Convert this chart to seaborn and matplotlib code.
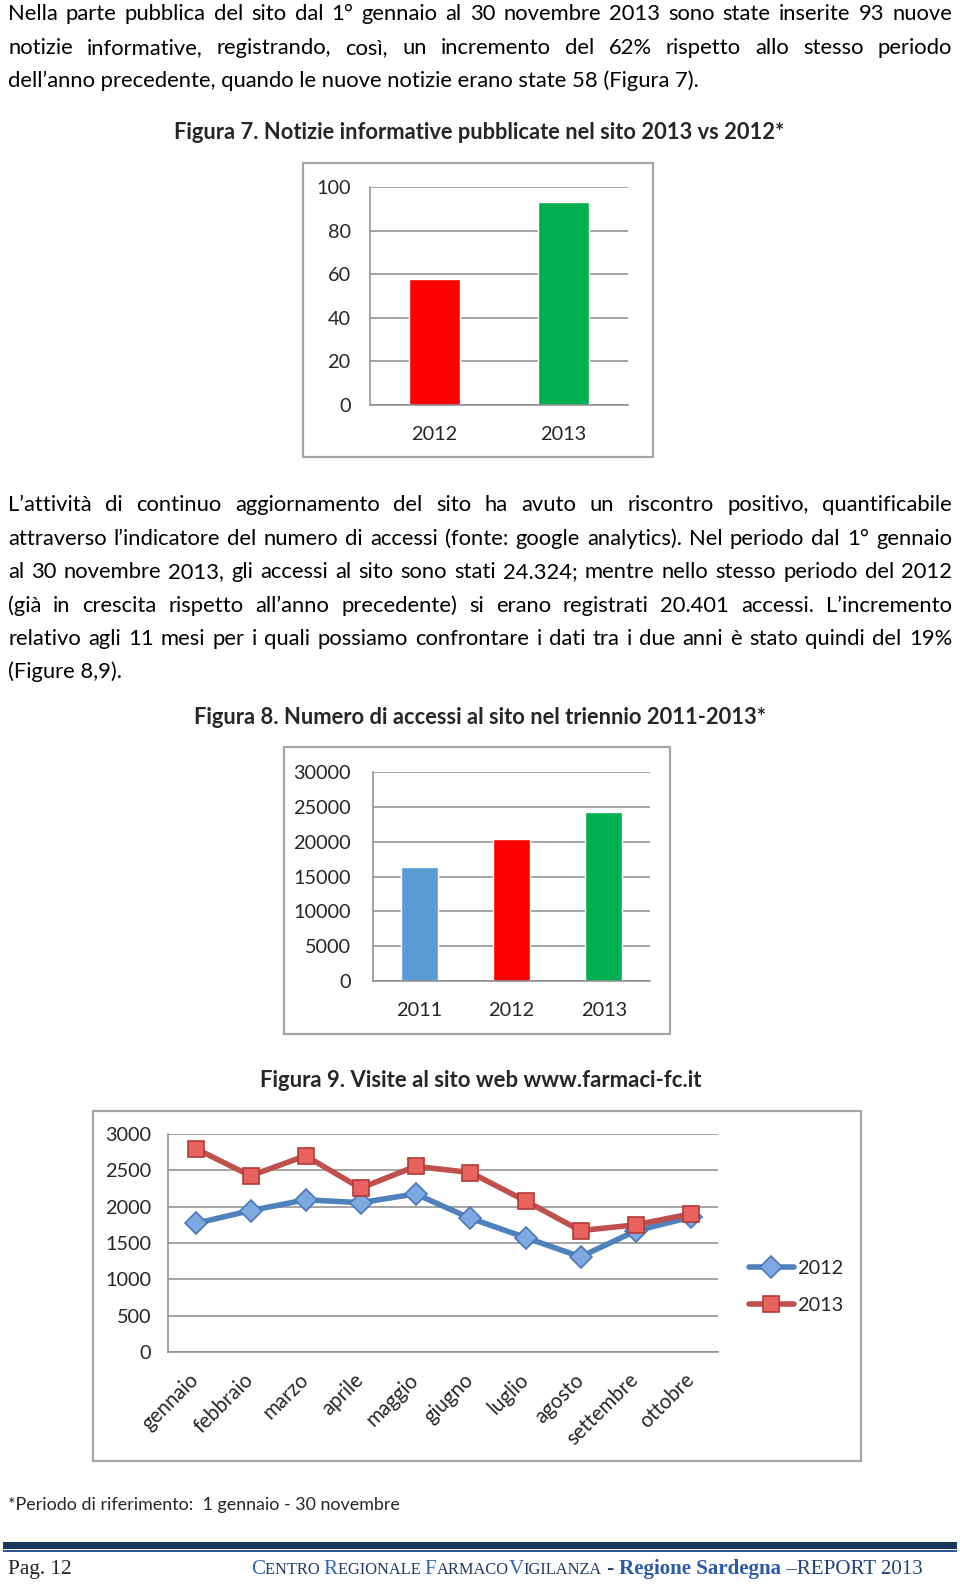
import numpy as np
import pandas as pd
import matplotlib
matplotlib.use("Agg")
import matplotlib.pyplot as plt
import seaborn as sns
from matplotlib.patches import Rectangle
from matplotlib.lines import Line2D

# ---------------- data ----------------
fig7_years = ["2012", "2013"]
fig7_values = [58, 93]
fig7_colors = ["#FF0000", "#00B050"]
fig7_yticks = [0, 20, 40, 60, 80, 100]

fig8_years = ["2011", "2012", "2013"]
fig8_values = [16300, 20401, 24324]
fig8_colors = ["#5B9BD5", "#FF0000", "#00B050"]
fig8_yticks = [0, 5000, 10000, 15000, 20000, 25000, 30000]

months = ["gennaio", "febbraio", "marzo", "aprile", "maggio", "giugno",
          "luglio", "agosto", "settembre", "ottobre"]
visits_2012 = [1770, 1945, 2095, 2055, 2175, 1840, 1575, 1310, 1665, 1855]
visits_2013 = [2800, 2425, 2700, 2255, 2555, 2470, 2080, 1670, 1750, 1900]
fig9_yticks = [0, 500, 1000, 1500, 2000, 2500, 3000]
series_names = ["2012", "2013"]

para1 = [
    "Nella parte pubblica del sito dal 1° gennaio al 30 novembre 2013 sono state inserite 93 nuove",
    "notizie informative, registrando, così, un incremento del 62% rispetto allo stesso periodo",
    "dell’anno precedente, quando le nuove notizie erano state 58 (Figura 7).",
]
para2 = [
    "L’attività di continuo aggiornamento del sito ha avuto un riscontro positivo, quantificabile",
    "attraverso l’indicatore del numero di accessi (fonte: google analytics). Nel periodo dal 1° gennaio",
    "al 30 novembre 2013, gli accessi al sito sono stati 24.324; mentre nello stesso periodo del 2012",
    "(già in crescita rispetto all’anno precedente) si erano registrati 20.401 accessi. L’incremento",
    "relativo agli 11 mesi per i quali possiamo confrontare i dati tra i due anni è stato quindi del 19%",
    "(Figure 8,9).",
]
title7 = "Figura 7. Notizie informative pubblicate nel sito 2013 vs 2012*"
title8 = "Figura 8. Numero di accessi al sito nel triennio 2011-2013*"
title9 = "Figura 9. Visite al sito web www.farmaci-fc.it"
footnote = "*Periodo di riferimento:  1 gennaio - 30 novembre"

# ---------------- setup ----------------
W, H, DPI = 960, 1588, 100
sns.set_style("white")
plt.rcParams["font.family"] = ["Lato", "DejaVu Sans"]
fig = plt.figure(figsize=(W / DPI, H / DPI), dpi=DPI)
fig.patch.set_facecolor("white")
R = fig.canvas.get_renderer()

GRID = "#8C8C8C"
TXT = "#000000"


def fy(y):
    return 1 - y / H


def rect(x0, y0, x1, y1):
    return [x0 / W, 1 - y1 / H, (x1 - x0) / W, (y1 - y0) / H]


def width_of(s, size, **kw):
    t = fig.text(0, 0, s, fontsize=size, **kw)
    w = t.get_window_extent(R).width
    t.remove()
    return w


def fit_size(s, target, **kw):
    return 20 * target / width_of(s, 20, **kw)


def line_text(s, y, size, x0=8, x1=952, justify=True, **kw):
    words = s.split(" ")
    if not justify or len(words) < 2:
        fig.text(x0 / W, fy(y), s, fontsize=size, va="baseline", ha="left", color=TXT, **kw)
        return
    widths = [width_of(w, size, **kw) for w in words]
    gap = (x1 - x0 - sum(widths)) / (len(words) - 1)
    x = x0
    for w, wd in zip(words, widths):
        fig.text(x / W, fy(y), w, fontsize=size, va="baseline", ha="left", color=TXT, **kw)
        x += wd + gap


def box(x0, y0, x1, y1):
    fig.patches.append(Rectangle((x0 / W, 1 - y1 / H), (x1 - x0) / W, (y1 - y0) / H,
                                 transform=fig.transFigure, fill=False,
                                 ec="#A6A6A6", lw=1.6))


def style_axes(ax, n, yticks, ypad, fs):
    ax.set_xlim(-0.5, n - 0.5)
    ax.set_ylim(yticks[0], yticks[-1])
    ax.set_yticks(yticks)
    ax.set_yticklabels([str(v) for v in yticks], fontsize=fs)
    ax.yaxis.grid(True, color=GRID, lw=1.1)
    ax.xaxis.grid(False)
    ax.set_axisbelow(True)
    for s in ["top", "right"]:
        ax.spines[s].set_visible(False)
    for s in ["left", "bottom"]:
        ax.spines[s].set_color(GRID)
        ax.spines[s].set_linewidth(1.1)
    ax.set_xticks(np.arange(-0.5, n, 1), minor=True)
    ax.tick_params(axis="x", which="minor", length=5, width=1.1, color=GRID, direction="out")
    ax.tick_params(axis="x", which="major", length=0)
    ax.tick_params(axis="y", which="major", length=5, width=1.1, color=GRID,
                   direction="out", pad=ypad)
    ax.set_xlabel("")
    ax.set_ylabel("")
    ax.patch.set_alpha(0)


# ---------------- body text ----------------
body_size = fit_size(para1[-1], 694)
for i, (s, y) in enumerate(zip(para1, [20, 54, 87])):
    line_text(s, y, body_size, justify=(i < len(para1) - 1))
for i, (s, y) in enumerate(zip(para2, [511, 545, 578, 612, 645, 678])):
    line_text(s, y, body_size, justify=(i < len(para2) - 1))

ts7 = fit_size(title7, 611, fontweight="bold")
fig.text(174 / W, fy(139), title7, fontsize=ts7, fontweight="bold", va="baseline")
ts8 = fit_size(title8, 571, fontweight="bold")
fig.text(194 / W, fy(724), title8, fontsize=ts8, fontweight="bold", va="baseline")
ts9 = fit_size(title9, 441, fontweight="bold")
fig.text(260 / W, fy(1087), title9, fontsize=ts9, fontweight="bold", va="baseline")
fns = fit_size(footnote, 393)
fig.text(8 / W, fy(1510), footnote, fontsize=fns, va="baseline")

TICK_FS = 14.3

# ---------------- Figure 7 ----------------
box(303, 163, 653, 457)
ax7 = fig.add_axes(rect(370, 187, 628, 405))
sns.barplot(x=fig7_years, y=fig7_values, hue=fig7_years, palette=fig7_colors,
            width=0.4, saturation=1, legend=False, ax=ax7)
style_axes(ax7, len(fig7_years), fig7_yticks, 9, TICK_FS)
ax7.set_xticks(range(len(fig7_years)))
ax7.set_xticklabels(fig7_years, fontsize=TICK_FS)
ax7.tick_params(axis="x", which="major", pad=15)

# ---------------- Figure 8 ----------------
box(284, 747, 670, 1034)
ax8 = fig.add_axes(rect(373, 772, 650, 981))
sns.barplot(x=fig8_years, y=fig8_values, hue=fig8_years, palette=fig8_colors,
            width=0.4, saturation=1, legend=False, ax=ax8)
style_axes(ax8, len(fig8_years), fig8_yticks, 11, TICK_FS)
ax8.set_xticks(range(len(fig8_years)))
ax8.set_xticklabels(fig8_years, fontsize=TICK_FS)
ax8.tick_params(axis="x", which="major", pad=15)

# ---------------- Figure 9 ----------------
box(93, 1111, 861, 1461)
ax9 = fig.add_axes(rect(168, 1134, 718, 1352))
pos = np.arange(len(months))
df9 = pd.DataFrame({
    "pos": np.concatenate([pos, pos]),
    "visite": visits_2012 + visits_2013,
    "anno": [series_names[0]] * len(months) + [series_names[1]] * len(months),
})
line_cols = {"2012": "#4F81BD", "2013": "#C0504D"}
sns.lineplot(data=df9, x="pos", y="visite", hue="anno", style="anno",
             palette=line_cols, markers={"2012": "D", "2013": "s"}, dashes=False,
             linewidth=4, markersize=11.5, sort=False, legend=False, ax=ax9)
face = {"2012": "#7EA8E0", "2013": "#E8625F"}
edge = {"2012": "#4A78B8", "2013": "#B23B38"}
for ln, nm in zip(ax9.get_lines(), series_names):
    ln.set_markerfacecolor(face[nm])
    ln.set_markeredgecolor(edge[nm])
    ln.set_markeredgewidth(1.2)
    ln.set_solid_joinstyle("round")
    ln.set_solid_capstyle("round")
style_axes(ax9, len(months), fig9_yticks, 7, TICK_FS)
ax9.set_xticks(pos)
ax9.set_xticklabels(months, fontsize=14.8, rotation=45, ha="right",
                    va="center", rotation_mode="anchor")
ax9.tick_params(axis="x", which="major", pad=18)

handles = [Line2D([], [], color=line_cols[n], lw=4, marker=m, markersize=11,
                  markerfacecolor=face[n], markeredgecolor=edge[n], markeredgewidth=1.2)
           for n, m in zip(series_names, ["D", "s"])]
ax9.legend(handles, series_names, loc="center left",
           bbox_to_anchor=(749 / W, fy(1287)), bbox_transform=fig.transFigure,
           frameon=False, fontsize=TICK_FS, handlelength=2.25, handletextpad=0.15,
           labelspacing=1.05, borderpad=0, borderaxespad=0)

# ---------------- footer ----------------
fig.patches.append(Rectangle((3 / W, fy(1548.5)), 954 / W, 6.5 / H, transform=fig.transFigure,
                             fc="#17375E", ec="none"))
fig.patches.append(Rectangle((3 / W, fy(1551.5)), 954 / W, 1.6 / H, transform=fig.transFigure,
                             fc="#2F5597", ec="none"))
serif = ["Liberation Serif", "DejaVu Serif"]
fig.text(8 / W, fy(1574), "Pag. 12", fontsize=fit_size("Pag. 12", 64, family=serif),
         family=serif, va="baseline")

BLUE = "#2E66B5"
NAVY = "#1F3864"
segs = [("C", 1.0, BLUE, "normal"), ("ENTRO ", 0.78, NAVY, "normal"),
        ("R", 1.0, BLUE, "normal"), ("EGIONALE ", 0.78, NAVY, "normal"),
        ("F", 1.0, BLUE, "normal"), ("ARMACO", 0.78, NAVY, "normal"),
        ("V", 1.0, BLUE, "normal"), ("IGILANZA", 0.78, NAVY, "normal"),
        (" - ", 1.0, NAVY, "normal"), ("Regione Sardegna", 1.0, "#2A5AA8", "bold"),
        (" –REPORT 2013", 1.0, "#24407A", "normal")]
base = 20
tot = sum(width_of(s, base * k, family=serif, fontweight=wt) for s, k, c, wt in segs)
fsz = base * (924 - 251) / tot
x = 251
for s, k, c, wt in segs:
    t = fig.text(x / W, fy(1574), s, fontsize=fsz * k, family=serif, fontweight=wt,
                 color=c, va="baseline", ha="left")
    x += t.get_window_extent(R).width

fig.savefig("out.png", dpi=DPI, facecolor="white")
